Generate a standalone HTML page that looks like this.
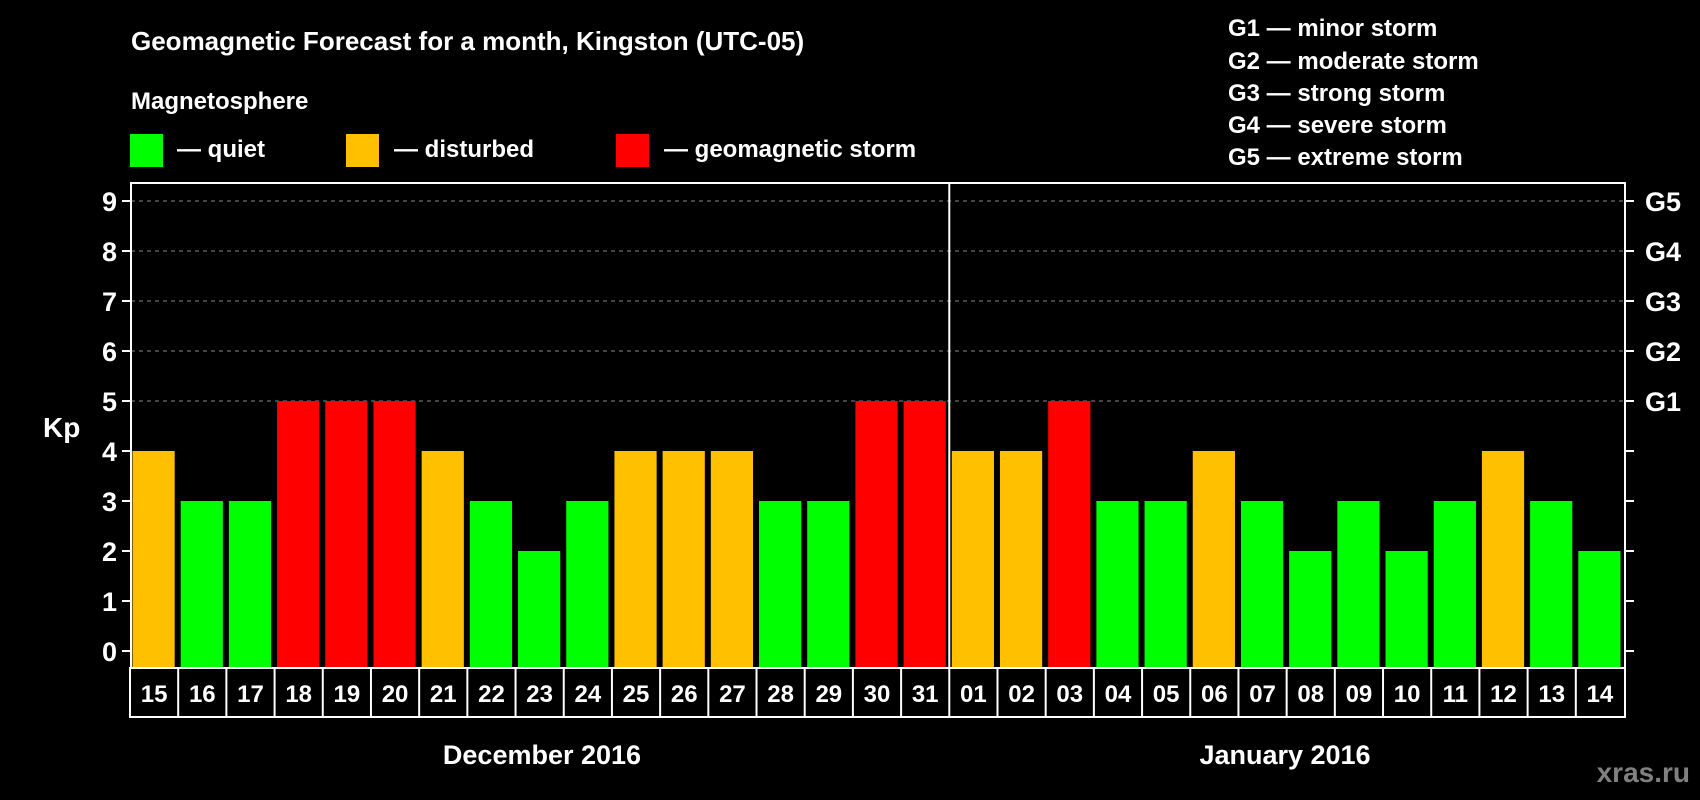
<!DOCTYPE html>
<html><head><meta charset="utf-8"><style>
body{margin:0;background:#000;}
svg{display:block;font-family:"Liberation Sans",Arial,sans-serif;font-weight:bold;}
</style></head><body>
<svg id="chart" width="1700" height="800" viewBox="0 0 1700 800">
<rect width="1700" height="800" fill="#000"/>
<text x="131" y="50" fill="#fff" font-size="26">Geomagnetic Forecast for a month, Kingston (UTC-05)</text>
<text x="131" y="109" fill="#fff" font-size="24">Magnetosphere</text>
<g><rect x="130" y="134" width="33" height="33" fill="#00ff00"/><text x="177" y="157" fill="#fff" font-size="24">— quiet</text></g>
<g><rect x="346" y="134" width="33" height="33" fill="#ffc000"/><text x="394" y="157" fill="#fff" font-size="24">— disturbed</text></g>
<g><rect x="616" y="134" width="33" height="33" fill="#ff0000"/><text x="664" y="157" fill="#fff" font-size="24">— geomagnetic storm</text></g>
<g fill="#fff" font-size="24">
<text x="1228" y="36">G1 — minor storm</text>
<text x="1228" y="69">G2 — moderate storm</text>
<text x="1228" y="101">G3 — strong storm</text>
<text x="1228" y="133">G4 — severe storm</text>
<text x="1228" y="165">G5 — extreme storm</text>
</g>
<text x="43" y="437" fill="#fff" font-size="28">Kp</text>
<g id="plot"></g>
<text x="542" y="764" fill="#fff" font-size="27" text-anchor="middle">December 2016</text>
<text x="1285" y="764" fill="#fff" font-size="27" text-anchor="middle">January 2016</text>
<text x="1690" y="782" fill="#808080" font-size="28" text-anchor="end">xras.ru</text>
</svg>
<script>
const days = ["15","16","17","18","19","20","21","22","23","24","25","26","27","28","29","30","31","01","02","03","04","05","06","07","08","09","10","11","12","13","14"];
const kpValues = [4,3,3,5,5,5,4,3,2,3,4,4,4,3,3,5,5,4,4,5,3,3,4,3,2,3,2,3,4,3,2];
const yTicks = [0,1,2,3,4,5,6,7,8,9];
const gLabels = ["","","","","","G1","G2","G3","G4","G5"];
const NS="http://www.w3.org/2000/svg";
const L=131,R=1625,T=183,B=668;
const slot=(R-L)/days.length;
const y=v=>651-v*50;
const x=i=>L+i*slot;
const g=document.getElementById('plot');
function mk(t,a,p){const e=document.createElementNS(NS,t);for(const k in a)e.setAttribute(k,a[k]);(p||g).appendChild(e);return e;}
yTicks.forEach((v,i)=>{
  if(v>=5){const gl=mk('line',{x1:L,x2:R,y1:y(v),y2:y(v),stroke:'#888','stroke-width':1,'stroke-dasharray':'4,4'});
  
  }
  mk('line',{x1:L-9,x2:L,y1:y(v),y2:y(v),stroke:'#fff','stroke-width':2});
  mk('line',{x1:R,x2:R+9,y1:y(v),y2:y(v),stroke:'#fff','stroke-width':2});
  const t=mk('text',{x:L-14,y:y(v)+10,fill:'#fff','font-size':27,'text-anchor':'end'});t.textContent=v;
  
  
  if(gLabels[i]){const r=mk('text',{x:R+20,y:y(v)+10,fill:'#fff','font-size':27});r.textContent=gLabels[i];
  
  }
});
kpValues.forEach((v,i)=>{
  const c=v>=5?'#ff0000':v>=4?'#ffc000':'#00ff00';
  const b=mk('rect',{x:x(i)+1.5,y:y(v),width:slot-6,height:B-y(v),fill:c});
  
  
  const t=mk('text',{x:x(i)+slot/2-1,y:702,fill:'#fff','font-size':24,'text-anchor':'middle'});t.textContent=days[i];
  
  
  if(i>0)mk('line',{x1:x(i)-1,x2:x(i)-1,y1:B,y2:717,stroke:'#fff','stroke-width':2});
});
mk('rect',{x:L,y:T,width:R-L,height:B-T,fill:'none',stroke:'#fff','stroke-width':2});
mk('rect',{x:L-1,y:B,width:R-L+1,height:717-B,fill:'none',stroke:'#fff','stroke-width':2});
mk('line',{x1:x(17)-1,x2:x(17)-1,y1:T,y2:B,stroke:'#fff','stroke-width':2});
</script>
</body></html>
